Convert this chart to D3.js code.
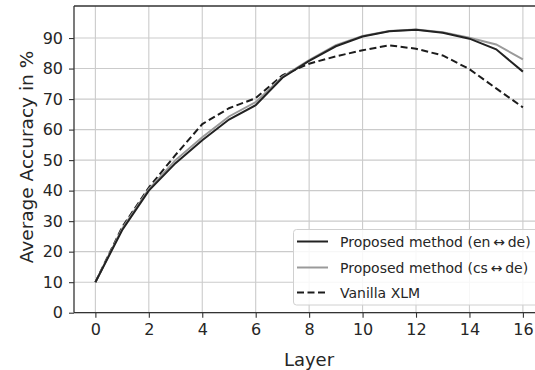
<!DOCTYPE html>
<html>
<head>
<meta charset="utf-8">
<script src="https://cdn.jsdelivr.net/npm/d3@7"></script>
<style>
  html, body { margin: 0; padding: 0; background: #fff; }
  svg { display: block; font-family: "DejaVu Sans", sans-serif; }
</style>
</head>
<body>
<svg id="chart" width="535" height="370"></svg>
<script>
const layers = [0,1,2,3,4,5,6,7,8,9,10,11,12,13,14,15,16];
const enDe = [10, 27, 40, 49, 56.5, 63.3, 68, 77, 82.5, 87.3, 90.5, 92.2, 92.7, 91.7, 89.8, 86.3, 79];
const csDe = [10, 27.5, 40.5, 50, 57.5, 64.3, 69, 77.3, 82.8, 87.7, 90.7, 92.3, 92.8, 91.9, 90.1, 87.9, 83];
const vanilla = [10, 28, 41, 51.7, 61.8, 67, 70.3, 77.8, 81.6, 84, 86, 87.6, 86.5, 84.3, 79.8, 73.5, 67.3];
const xTicks = [0,2,4,6,8,10,12,14,16];
const yTicks = [0,10,20,30,40,50,60,70,80,90];
const seriesNames = ["Proposed method (en\u2009\u2194\u2009de)", "Proposed method (cs\u2009\u2194\u2009de)", "Vanilla XLM"];

(function () {
const svg = d3.select("#chart");
const pLeft = 74, pTop = 6, pBottom = 312.7, pRight = 535;
const x = d3.scaleLinear().domain([-0.8, 16.8]).range([pLeft, pLeft + 17.6 * 26.72]);
const y = d3.scaleLinear().domain([0, 100.5]).range([pBottom, pTop]);

svg.append("defs").append("clipPath").attr("id", "plotclip")
  .append("rect").attr("x", pLeft).attr("y", pTop).attr("width", pRight - pLeft).attr("height", pBottom - pTop);

const g = svg.append("g");
// grid
g.append("g").selectAll("line").data(xTicks).join("line")
  .attr("x1", d => x(d)).attr("x2", d => x(d)).attr("y1", pTop).attr("y2", pBottom)
  .attr("stroke", "#cbcbcb").attr("stroke-width", 1.1);
g.append("g").selectAll("line").data(yTicks).join("line")
  .attr("x1", pLeft).attr("x2", pRight).attr("y1", d => y(d)).attr("y2", d => y(d))
  .attr("stroke", "#cbcbcb").attr("stroke-width", 1.1);

const line = d3.line().x((d, i) => x(layers[i])).y(d => y(d));
const plot = g.append("g").attr("clip-path", "url(#plotclip)");
const series = [
  {vals: vanilla, color: "#1c1c1c", dash: "7,3.5"},
  {vals: csDe, color: "#9a9a9a", dash: null},
  {vals: enDe, color: "#222222", dash: null}
];
series.forEach(s => {
  plot.append("path").datum(s.vals).attr("d", line)
    .attr("fill", "none").attr("stroke", s.color).attr("stroke-width", 2)
    .attr("stroke-dasharray", s.dash);
});

// axes
const xAxis = d3.axisBottom(x).tickValues(xTicks).tickSize(5).tickPadding(6);
const yAxis = d3.axisLeft(y).tickValues(yTicks).tickSize(5).tickPadding(6);
const gx = svg.append("g").attr("transform", `translate(0,${pBottom})`).call(xAxis);
const gy = svg.append("g").attr("transform", `translate(${pLeft},0)`).call(yAxis);
[gx, gy].forEach(a => {
  a.select(".domain").remove();
  a.selectAll(".tick line").attr("stroke", "#333").attr("stroke-width", 1.1);
  a.selectAll(".tick text").attr("fill", "#262626").style("font-size", "16px").style("font-family", "DejaVu Sans");
});
// spines
svg.append("line").attr("x1", pLeft).attr("x2", pRight).attr("y1", pBottom).attr("y2", pBottom).attr("stroke", "#333").attr("stroke-width", 1.3);
svg.append("line").attr("x1", pLeft).attr("x2", pLeft).attr("y1", pTop).attr("y2", pBottom).attr("stroke", "#333").attr("stroke-width", 1.3);
svg.append("line").attr("x1", pLeft).attr("x2", pRight).attr("y1", pTop).attr("y2", pTop).attr("stroke", "#333").attr("stroke-width", 1.3);

// axis labels
svg.append("text").attr("x", 309).attr("y", 365.5).attr("text-anchor", "middle")
  .style("font-size", "18px").attr("fill", "#262626").text("Layer");
svg.append("text").attr("transform", `translate(33,157) rotate(-90)`).attr("text-anchor", "middle")
  .style("font-size", "18.5px").attr("fill", "#262626").text("Average Accuracy in %");

// legend
const lg = svg.append("g");
lg.append("rect").attr("x", 293.5).attr("y", 229.5).attr("width", 260).attr("height", 75.5).attr("rx", 3)
  .attr("fill", "#fff").attr("fill-opacity", 0.85).attr("stroke", "#d0d0d0").attr("stroke-width", 1);
const legendRows = [
  {name: seriesNames[0], color: "#222222", dash: null, yy: 241.5},
  {name: seriesNames[1], color: "#9a9a9a", dash: null, yy: 267.5},
  {name: seriesNames[2], color: "#1c1c1c", dash: "7,3.5", yy: 292.5}
];
legendRows.forEach(r => {
  lg.append("line").attr("x1", 297).attr("x2", 328).attr("y1", r.yy).attr("y2", r.yy)
    .attr("stroke", r.color).attr("stroke-width", 2).attr("stroke-dasharray", r.dash);
  lg.append("text").attr("x", 340).attr("y", r.yy + 5).style("font-size", "14px").attr("fill", "#262626").text(r.name);
});
})();
</script>
</body>
</html>
